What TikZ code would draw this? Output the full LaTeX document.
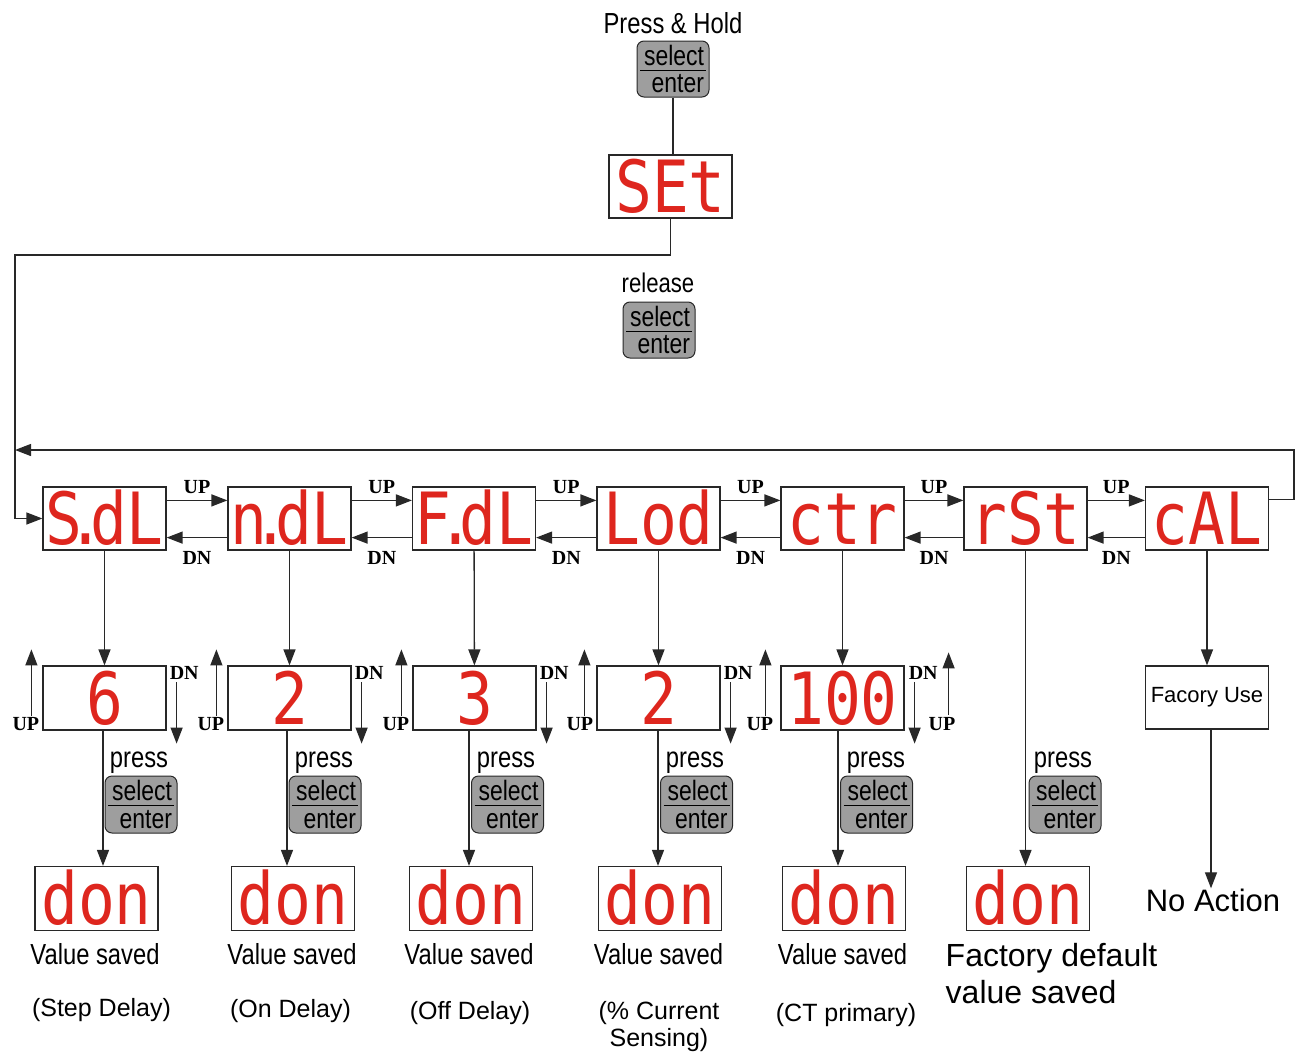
\documentclass[tikz,border=0pt]{standalone}
\usepackage{fontspec}
\setmainfont{Liberation Sans}
\newfontfamily\narrowfont[FakeStretch=0.82]{Liberation Sans}
\newfontfamily\keyfont{Liberation Serif}
\newfontfamily\segfont[FakeStretch=0.85]{DejaVu Sans Mono}
\usepackage{tikz}
\usetikzlibrary{arrows.meta}
\usepackage{xcolor}
\definecolor{segred}{RGB}{222,38,30}
\definecolor{keygray}{RGB}{158,158,158}
\definecolor{wire}{RGB}{40,40,40}

\newcommand{\selenter}{\vbox{\offinterlineskip
	\hbox to 66pt{\hfil select\kern2pt}\kern4pt
	\hrule height 0.8pt\kern4pt
	\hbox to 66pt{\hfil enter\kern2pt}}}

\begin{document}
\begin{tikzpicture}[x=1pt, y=-1pt,
	disp/.style={draw=wire, line width=1.2pt, minimum width=123pt, minimum height=63pt, inner sep=0pt, text=segred, font=\segfont\fontsize{72}{72}\selectfont, text height=52pt, text depth=0pt},
	textbox/.style={draw=wire, line width=1.2pt, minimum width=123pt, minimum height=63pt, inner sep=0pt, font=\fontsize{22}{26}\selectfont},
	btn/.style={draw=wire, line width=1pt, fill=keygray, rounded corners=7pt, minimum width=72pt, minimum height=56pt, inner sep=0pt, font=\narrowfont\fontsize{28}{28}\selectfont},
	lbl/.style={font=\narrowfont\fontsize{29}{34}\selectfont, anchor=base, inner sep=0pt},
	remark/.style={font=\fontsize{25}{27}\selectfont, anchor=base, inner sep=0pt, align=center},
	updn/.style={font=\keyfont\bfseries\fontsize{20}{20}\selectfont, inner sep=0pt},
	uplab/.style={updn, above, inner sep=6pt},
	dnlab/.style={updn, below, inner sep=13pt},
	wireline/.style={draw=wire, line width=1.3pt},
	arr/.style={draw=wire, line width=1.3pt, -{Triangle[length=16pt,width=12pt]}}]
	\useasboundingbox (0,0) rectangle (1299,1052);

	% entering the menu
	\node (hold) [lbl] at (673,33) {Press \& Hold};
	\node (k0) [btn] at (673,69) {\selenter};
	\node (set) [disp] at (670.5,186.5) {SEt};
	\node (rel) [lbl, font=\narrowfont\fontsize{27}{30}\selectfont] at (658,292) {release};
	\node (k1) [btn] at (659,330) {\selenter};
	\draw[wireline] (k0.south) -- (k0.south |- set.north);

	% menu items
	\node (sdl) [disp] at (104.5,518.5) {S\kern-.2em.\kern-.2em dL};
	\node (ndl) [disp] at (289.5,518.5) {n\kern-.2em.\kern-.2em dL};
	\node (fdl) [disp] at (474,518.5) {F\kern-.2em.\kern-.2em dL};
	\node (lod) [disp] at (658.5,518.5) {Lod};
	\node (ctr) [disp] at (842.5,518.5) {ctr};
	\node (rst) [disp] at (1025.5,518.5) {rSt};
	\node (cal) [disp] at (1207,518.5) {cAL};

	\coordinate (cornerL) at (15,255);
	\coordinate (cornerR) at (1294,450);
	\draw[arr] (set.south) |- (cornerL) |- (sdl.west);
	\draw[arr] ([yshift=19pt]cal.east) -| (cornerR) -- (cornerL |- cornerR);

	\draw[arr] ([yshift=-14pt]sdl.north east) -- node[uplab] {UP} ([yshift=-14pt]ndl.north west);
	\draw[arr] ([yshift=13pt]ndl.south west) -- node[dnlab] {DN} ([yshift=13pt]sdl.south east);
	\draw[arr] ([yshift=-14pt]ndl.north east) -- node[uplab] {UP} ([yshift=-14pt]fdl.north west);
	\draw[arr] ([yshift=13pt]fdl.south west) -- node[dnlab] {DN} ([yshift=13pt]ndl.south east);
	\draw[arr] ([yshift=-14pt]fdl.north east) -- node[uplab] {UP} ([yshift=-14pt]lod.north west);
	\draw[arr] ([yshift=13pt]lod.south west) -- node[dnlab] {DN} ([yshift=13pt]fdl.south east);
	\draw[arr] ([yshift=-14pt]lod.north east) -- node[uplab] {UP} ([yshift=-14pt]ctr.north west);
	\draw[arr] ([yshift=13pt]ctr.south west) -- node[dnlab] {DN} ([yshift=13pt]lod.south east);
	\draw[arr] ([yshift=-14pt]ctr.north east) -- node[uplab] {UP} ([yshift=-14pt]rst.north west);
	\draw[arr] ([yshift=13pt]rst.south west) -- node[dnlab] {DN} ([yshift=13pt]ctr.south east);
	\draw[arr] ([yshift=-14pt]rst.north east) -- node[uplab] {UP} ([yshift=-14pt]cal.north west);
	\draw[arr] ([yshift=13pt]cal.south west) -- node[dnlab] {DN} ([yshift=13pt]rst.south east);

	% values
	\node (v1) [disp, minimum height=64pt] at (104.5,698) {6};
	\node (v2) [disp, minimum height=64pt] at (289.5,698) {2};
	\node (v3) [disp, minimum height=64pt] at (474.5,698) {3};
	\node (v4) [disp, minimum height=64pt] at (658.5,698) {2};
	\node (v5) [disp, minimum height=64pt] at (842.5,698) {100};
	\node (fu) [textbox] at (1207,697.5) {Facory Use};

	\draw[arr] (sdl) -- (v1);
	\draw[arr] (ndl) -- (v2);
	\draw[arr] (fdl) -- (v3);
	\draw[arr] (lod) -- (v4);
	\draw[arr] (ctr) -- (v5);
	\draw[arr] (cal) -- (fu);

	\draw[arr] ([shift={(-11pt,15pt)}]v1.south west) -- ([shift={(-11pt,16pt)}]v1.north west);
	\node (u1) [updn, anchor=south east] at ([xshift=-3pt]v1.south west) {UP};
	\draw[arr] ([shift={(10pt,-17pt)}]v1.north east) -- ([shift={(10pt,-13pt)}]v1.south east);
	\node (n1) [updn, anchor=north west] at ([shift={(3pt,-1pt)}]v1.north east) {DN};
	\draw[arr] ([shift={(-11pt,15pt)}]v2.south west) -- ([shift={(-11pt,16pt)}]v2.north west);
	\node (u2) [updn, anchor=south east] at ([xshift=-3pt]v2.south west) {UP};
	\draw[arr] ([shift={(10pt,-17pt)}]v2.north east) -- ([shift={(10pt,-13pt)}]v2.south east);
	\node (n2) [updn, anchor=north west] at ([shift={(3pt,-1pt)}]v2.north east) {DN};
	\draw[arr] ([shift={(-11pt,15pt)}]v3.south west) -- ([shift={(-11pt,16pt)}]v3.north west);
	\node (u3) [updn, anchor=south east] at ([xshift=-3pt]v3.south west) {UP};
	\draw[arr] ([shift={(10pt,-17pt)}]v3.north east) -- ([shift={(10pt,-13pt)}]v3.south east);
	\node (n3) [updn, anchor=north west] at ([shift={(3pt,-1pt)}]v3.north east) {DN};
	\draw[arr] ([shift={(-12pt,15pt)}]v4.south west) -- ([shift={(-12pt,16pt)}]v4.north west);
	\node (u4) [updn, anchor=south east] at ([xshift=-3pt]v4.south west) {UP};
	\draw[arr] ([shift={(10pt,-17pt)}]v4.north east) -- ([shift={(10pt,-13pt)}]v4.south east);
	\node (n4) [updn, anchor=north west] at ([shift={(3pt,-1pt)}]v4.north east) {DN};
	\draw[arr] ([shift={(-15pt,15pt)}]v5.south west) -- ([shift={(-15pt,16pt)}]v5.north west);
	\node (u5) [updn, anchor=south east] at ([xshift=-7pt]v5.south west) {UP};
	\draw[arr] ([shift={(10pt,-17pt)}]v5.north east) -- ([shift={(10pt,-13pt)}]v5.south east);
	\node (n5) [updn, anchor=north west] at ([shift={(4pt,-1pt)}]v5.north east) {DN};
	\draw[arr] ([shift={(44pt,16pt)}]v5.south east) -- ([shift={(44pt,13pt)}]v5.north east);
	\node (u6) [updn, anchor=south east] at ([xshift=51pt]v5.south east) {UP};

	% confirm with select/enter
	\node (p1) [lbl] at (139,767) {press};
	\node (p2) [lbl] at (324,767) {press};
	\node (p3) [lbl] at (506,767) {press};
	\node (p4) [lbl] at (695,767) {press};
	\node (p5) [lbl] at (876,767) {press};
	\node (p6) [lbl] at (1063,767) {press};
	\node (k2) [btn, minimum height=57pt] at (141,804.5) {\selenter};
	\node (k3) [btn, minimum height=57pt] at (325,804.5) {\selenter};
	\node (k4) [btn, minimum height=57pt] at (507.5,804.5) {\selenter};
	\node (k5) [btn, minimum height=57pt] at (696.5,804.5) {\selenter};
	\node (k6) [btn, minimum height=57pt] at (876.5,804.5) {\selenter};
	\node (k7) [btn, minimum height=57pt] at (1065,804.5) {\selenter};

	% saved
	\node (s1) [disp, minimum height=64pt] at (96.5,898.5) {don};
	\node (s2) [disp, minimum height=64pt] at (293,898.5) {don};
	\node (s3) [disp, minimum height=64pt] at (471,898.5) {don};
	\node (s4) [disp, minimum height=64pt] at (660,898.5) {don};
	\node (s5) [disp, minimum height=64pt] at (844,898.5) {don};
	\node (s6) [disp, minimum height=64pt] at (1028,898.5) {don};
	\node (na) [lbl, font=\fontsize{31}{34}\selectfont] at (1213,911) {No Action};

	\draw[arr] ([xshift=-1.5pt]v1.south) -- ([xshift=-1.5pt]v1.south |- s1.north);
	\draw[arr] ([xshift=-2.5pt]v2.south) -- ([xshift=-2.5pt]v2.south |- s2.north);
	\draw[arr] ([xshift=-5.5pt]v3.south) -- ([xshift=-5.5pt]v3.south |- s3.north);
	\draw[arr] ([xshift=-0.5pt]v4.south) -- ([xshift=-0.5pt]v4.south |- s4.north);
	\draw[arr] ([xshift=-4.5pt]v5.south) -- ([xshift=-4.5pt]v5.south |- s5.north);
	\draw[arr] (rst.south) -- (rst.south |- s6.north);
	\draw[arr] ([xshift=4pt]fu.south) -- ([xshift=4pt]fu.south |- na.north);

	\node (t1) [lbl] at (95,964) {Value saved};
	\node (t2) [lbl] at (292,964) {Value saved};
	\node (t3) [lbl] at (469,964) {Value saved};
	\node (t4) [lbl] at (658.5,964) {Value saved};
	\node (t5) [lbl] at (842.5,964) {Value saved};
	\node (c1) [remark] at (101.5,1016) {(Step Delay)};
	\node (c2) [remark] at (290.5,1017) {(On Delay)};
	\node (c3) [remark] at (470,1019) {(Off Delay)};
	\node (c4) [remark, anchor=north] at (659,1001) {(\% Current\\Sensing)};
	\node (c5) [remark] at (846,1021) {(CT primary)};
	\node (c6) [anchor=north west, align=left, inner sep=0pt, font=\fontsize{32}{37}\selectfont] at (945.5,943) {Factory default\\value saved};
\end{tikzpicture}
\end{document}
